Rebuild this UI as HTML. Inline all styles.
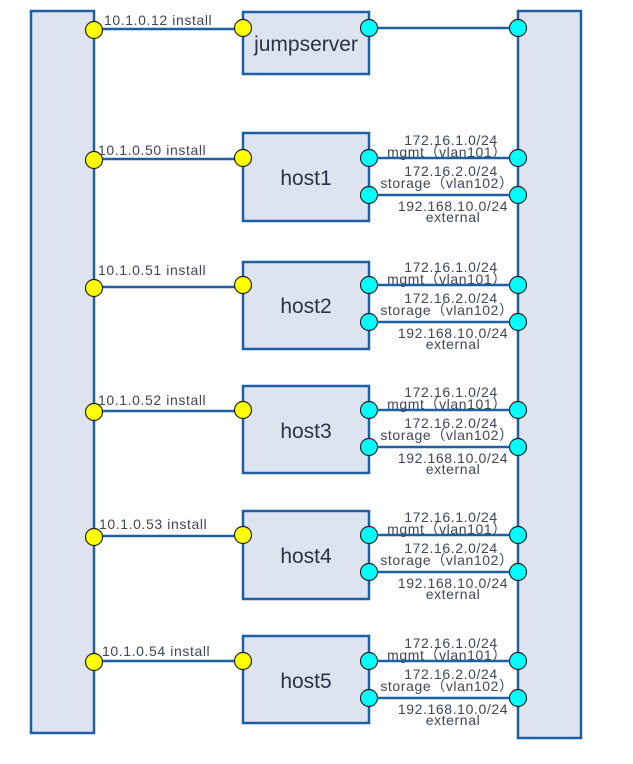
<!DOCTYPE html>
<html><head><meta charset="utf-8"><style>
html,body{margin:0;padding:0;background:#fff;}
svg{display:block}
text{font-family:"Liberation Sans","Noto Sans CJK SC",sans-serif;fill:#3f4654;}
.s{font-size:14px;text-anchor:middle;letter-spacing:0.6px}
.i{font-size:14px;letter-spacing:0.6px}
.b{font-size:21px;text-anchor:middle;fill:#2a3347}
</style></head><body>
<svg width="633" height="764" viewBox="0 0 633 764" xmlns="http://www.w3.org/2000/svg">
<g fill="#dde4f0" stroke="#1f5fa3" stroke-width="2.5">
<rect x="31" y="11" width="63" height="722"/>
<rect x="518" y="11" width="63" height="727"/>
<rect x="243" y="12" width="126" height="62"/>
<rect x="243" y="133" width="126" height="88"/>
<rect x="243" y="262" width="126" height="87"/>
<rect x="243" y="386" width="126" height="87"/>
<rect x="243" y="511" width="126" height="88"/>
<rect x="243" y="636" width="126" height="87"/>
</g>
<g stroke="#1f5fa3" stroke-width="2.5">
<line x1="94" y1="29" x2="243" y2="29"/>
<line x1="369" y1="28" x2="518" y2="28"/>
<line x1="94" y1="159" x2="243" y2="159"/>
<line x1="369" y1="158" x2="518" y2="158"/><line x1="369" y1="195" x2="518" y2="195"/>
<line x1="94" y1="287" x2="243" y2="287"/>
<line x1="369" y1="285" x2="518" y2="285"/><line x1="369" y1="322" x2="518" y2="322"/>
<line x1="94" y1="411" x2="243" y2="411"/>
<line x1="369" y1="410" x2="518" y2="410"/><line x1="369" y1="447" x2="518" y2="447"/>
<line x1="94" y1="536" x2="243" y2="536"/>
<line x1="369" y1="535" x2="518" y2="535"/><line x1="369" y1="572" x2="518" y2="572"/>
<line x1="94" y1="661" x2="243" y2="661"/>
<line x1="369" y1="661" x2="518" y2="661"/><line x1="369" y1="698" x2="518" y2="698"/>
</g>
<g fill="#ffff00" stroke="#222" stroke-width="1.2">
<circle cx="94" cy="30" r="8.5"/><circle cx="243" cy="28" r="8.5"/>
<circle cx="94" cy="160" r="8.5"/><circle cx="243" cy="158" r="8.5"/>
<circle cx="94" cy="288" r="8.5"/><circle cx="243" cy="285" r="8.5"/>
<circle cx="94" cy="412" r="8.5"/><circle cx="243" cy="410" r="8.5"/>
<circle cx="94" cy="537" r="8.5"/><circle cx="243" cy="535" r="8.5"/>
<circle cx="94" cy="662" r="8.5"/><circle cx="243" cy="661" r="8.5"/>
</g>
<g fill="#00ffff" stroke="#222" stroke-width="1.2">
<circle cx="369" cy="28" r="8.5"/><circle cx="518" cy="28" r="8.5"/>
<circle cx="369" cy="158" r="8.5"/><circle cx="518" cy="158" r="8.5"/><circle cx="369" cy="195" r="8.5"/><circle cx="518" cy="195" r="8.5"/>
<circle cx="369" cy="285" r="8.5"/><circle cx="518" cy="285" r="8.5"/><circle cx="369" cy="322" r="8.5"/><circle cx="518" cy="322" r="8.5"/>
<circle cx="369" cy="410" r="8.5"/><circle cx="518" cy="410" r="8.5"/><circle cx="369" cy="447" r="8.5"/><circle cx="518" cy="447" r="8.5"/>
<circle cx="369" cy="535" r="8.5"/><circle cx="518" cy="535" r="8.5"/><circle cx="369" cy="572" r="8.5"/><circle cx="518" cy="572" r="8.5"/>
<circle cx="369" cy="661" r="8.5"/><circle cx="518" cy="661" r="8.5"/><circle cx="369" cy="698" r="8.5"/><circle cx="518" cy="698" r="8.5"/>
</g>
<text class="i" x="104" y="25">10.1.0.12 install</text>
<text class="i" x="98" y="155">10.1.0.50 install</text>
<text class="i" x="98" y="275">10.1.0.51 install</text>
<text class="i" x="98" y="405">10.1.0.52 install</text>
<text class="i" x="99" y="529">10.1.0.53 install</text>
<text class="i" x="102" y="656">10.1.0.54 install</text>
<text class="b" x="306" y="51">jumpserver</text>
<text class="b" x="306" y="185">host1</text>
<text class="b" x="306" y="313">host2</text>
<text class="b" x="306" y="438">host3</text>
<text class="b" x="306" y="563">host4</text>
<text class="b" x="306" y="688">host5</text>
<g>
<text class="s" x="451" y="145">172.16.1.0/24</text><text class="s" x="447" y="157">mgmt（vlan101）</text>
<text class="s" x="451" y="176">172.16.2.0/24</text><text class="s" x="447" y="188">storage（vlan102）</text>
<text class="s" x="453" y="211">192.168.10.0/24</text><text class="s" x="453" y="222">external</text>

<text class="s" x="451" y="272">172.16.1.0/24</text><text class="s" x="447" y="284">mgmt（vlan101）</text>
<text class="s" x="451" y="303">172.16.2.0/24</text><text class="s" x="447" y="315">storage（vlan102）</text>
<text class="s" x="453" y="338">192.168.10.0/24</text><text class="s" x="453" y="349">external</text>

<text class="s" x="451" y="397">172.16.1.0/24</text><text class="s" x="447" y="409">mgmt（vlan101）</text>
<text class="s" x="451" y="428">172.16.2.0/24</text><text class="s" x="447" y="440">storage（vlan102）</text>
<text class="s" x="453" y="463">192.168.10.0/24</text><text class="s" x="453" y="474">external</text>

<text class="s" x="451" y="522">172.16.1.0/24</text><text class="s" x="447" y="534">mgmt（vlan101）</text>
<text class="s" x="451" y="553">172.16.2.0/24</text><text class="s" x="447" y="565">storage（vlan102）</text>
<text class="s" x="453" y="588">192.168.10.0/24</text><text class="s" x="453" y="599">external</text>

<text class="s" x="451" y="648">172.16.1.0/24</text><text class="s" x="447" y="660">mgmt（vlan101）</text>
<text class="s" x="451" y="679">172.16.2.0/24</text><text class="s" x="447" y="691">storage（vlan102）</text>
<text class="s" x="453" y="714">192.168.10.0/24</text><text class="s" x="453" y="725">external</text>
</g>
</svg>
</body></html>
